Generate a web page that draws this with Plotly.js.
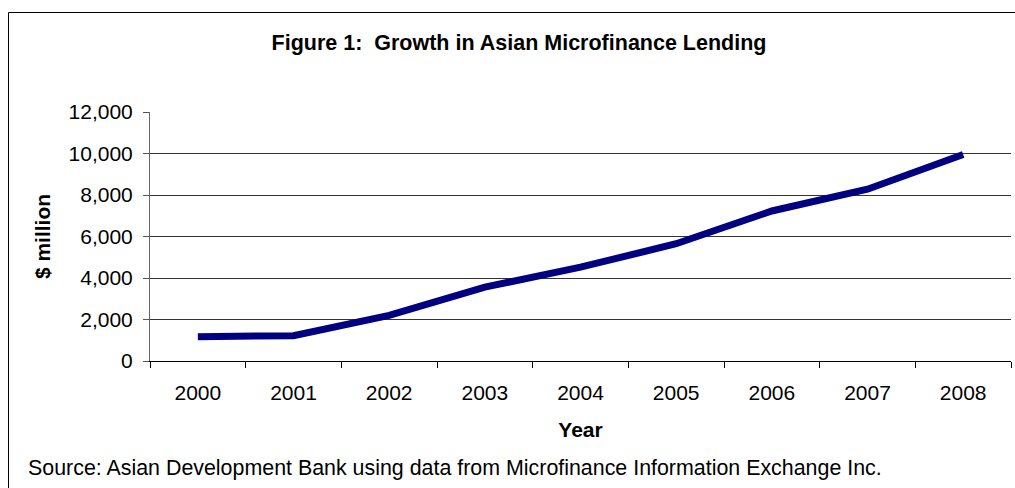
<!DOCTYPE html>
<html>
<head>
<meta charset="utf-8">
<script src="https://cdn.plot.ly/plotly-3.0.1.min.js"></script>
<style>html,body{margin:0;padding:0;background:#fff;}#chart{width:1015px;height:488px;}</style>
</head>
<body>
<div id="chart"></div>
<script>
const years = ["2000","2001","2002","2003","2004","2005","2006","2007","2008"];
const lending = [1170, 1220, 2200, 3560, 4520, 5650, 7230, 8280, 9950];
const yTicks = [0, 2000, 4000, 6000, 8000, 10000, 12000];
const titleText = "Figure 1:  Growth in Asian Microfinance Lending";
const xTitle = "Year";
const yTitle = "$ million";
const sourceText = "Source: Asian Development Bank using data from Microfinance Information Exchange Inc.";

const FONT = "Arial, 'Liberation Sans', sans-serif";
const W = 1015, H = 488;
const m = {l: 150, r: 4, t: 112, b: 127, pad: 0};
const pw = W - m.l - m.r, ph = H - m.t - m.b;
const px = x => (x - m.l) / pw;
const py = y => (H - m.b - y) / ph;

const trace = {
  x: years, y: lending, type: "scatter", mode: "lines",
  line: {color: "#000080", width: 7},
  hoverinfo: "skip", showlegend: false
};

const layout = {
  width: W, height: H, margin: m,
  paper_bgcolor: "#fff", plot_bgcolor: "#fff",
  font: {family: FONT, size: 21, color: "#000"},
  title: {text: "<b>" + titleText + "</b>", font: {family: FONT, size: 21.5, color: "#000"},
          xref: "container", yref: "container", x: 519 / W, y: 1 - 42 / H, xanchor: "center", yanchor: "middle"},
  xaxis: {
    type: "category", range: [-0.5, 8.5], tickson: "boundaries",
    ticks: "outside", ticklen: 6, tickcolor: "#000", tickwidth: 1,
    showline: true, linecolor: "#000", linewidth: 1,
    showgrid: false, zeroline: false, automargin: false,
    ticklabelstandoff: 13,
    tickfont: {family: FONT, size: 21, color: "#000"},
    title: {text: "<b>" + xTitle + "</b>", font: {family: FONT, size: 21, color: "#000"}, standoff: 19}
  },
  yaxis: {
    range: [0, 12000], tickvals: yTicks, tickformat: ",d",
    ticks: "outside", ticklen: 6, tickcolor: "#555", tickwidth: 1,
    showline: true, linecolor: "#666", linewidth: 1,
    showgrid: true, gridcolor: "#333", gridwidth: 1,
    zeroline: false, automargin: false,
    ticklabelstandoff: 6,
    tickfont: {family: FONT, size: 21, color: "#000"},
    title: {text: "<b>" + yTitle + "</b>", font: {family: FONT, size: 21, color: "#000"}, standoff: 12}
  },
  shapes: [{
    type: "rect", xref: "paper", yref: "paper",
    x0: px(8.5), x1: px(1200), y0: py(700), y1: py(12.5),
    line: {color: "#000", width: 1}, fillcolor: "rgba(0,0,0,0)", layer: "below"
  }],
  annotations: [{
    text: sourceText, xref: "paper", yref: "paper",
    x: px(26), y: py(468), xanchor: "left", yanchor: "middle",
    showarrow: false, font: {family: FONT, size: 21.4, color: "#000"}
  }]
};

Plotly.newPlot("chart", [trace], layout, {staticPlot: true, displayModeBar: false});
</script>
</body>
</html>
